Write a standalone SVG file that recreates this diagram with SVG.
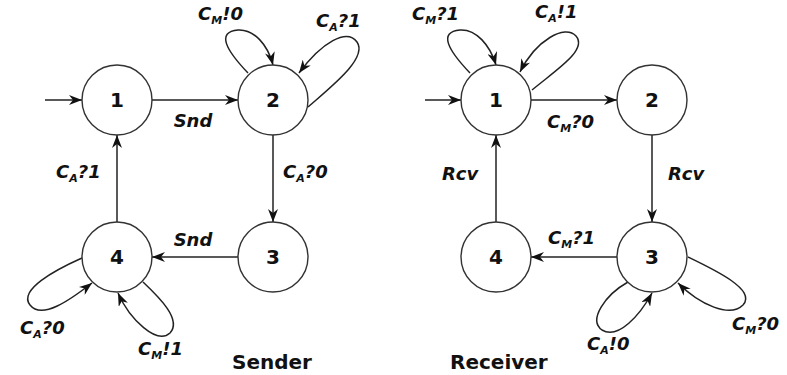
<svg xmlns="http://www.w3.org/2000/svg" width="787" height="375" viewBox="0 0 787 375">
<defs>
<marker id="ah" viewBox="0 0 13 10" refX="13" refY="5" markerWidth="13" markerHeight="10" orient="auto" markerUnits="userSpaceOnUse"><path d="M0,0 L13,5 L0,10 L4,5 Z" fill="#111"/></marker>
</defs>
<style>
.node circle{fill:#fff;stroke:#333;stroke-width:1.4}
.node text{font-family:"DejaVu Sans",Verdana,sans-serif;font-weight:bold;font-size:20px;text-anchor:middle;fill:#111}
.edges path{fill:none;stroke:#222;stroke-width:1.5;marker-end:url(#ah)}
.lbl{font-family:"DejaVu Sans",Verdana,sans-serif;font-weight:bold;font-style:italic;font-size:18px;fill:#111}
.sub{font-size:11px}
.title{font-family:"DejaVu Sans",Verdana,sans-serif;font-weight:bold;font-size:20px;fill:#111}
</style>
<rect width="787" height="375" fill="#fff"/>
<g id="edges" class="edges">
<path d="M45,100 L82,100"/>
<path d="M152,100 L238,100"/>
<path d="M273,135 L273,222"/>
<path d="M238,257 L152,257"/>
<path d="M117,222 L117,135"/>
<path d="M248,73 C226,50 216,32 238,30 C254,29 268,45 273,65"/>
<path d="M308,107 C332,86 368,58 357,42 C347,28 322,42 299,73"/>
<path d="M82,258 C55,270 18,290 30,305 C42,320 70,300 92,283"/>
<path d="M143,282 C160,298 182,320 170,333 C157,345 130,320 118,293"/>
<path d="M425,100 L461,100"/>
<path d="M531,100 L617,100"/>
<path d="M652,135 L652,222"/>
<path d="M617,257 L531,257"/>
<path d="M496,222 L496,135"/>
<path d="M470,73 C448,50 438,32 460,30 C476,29 490,45 496,65"/>
<path d="M532,90 C556,70 588,50 576,36 C565,24 536,40 520,72"/>
<path d="M628,282 C605,295 588,320 602,330 C618,340 640,315 652,293"/>
<path d="M688,257 C715,270 757,290 743,305 C730,318 700,305 678,283"/>
</g>
<g id="s1" class="node"><circle cx="117" cy="100" r="35"/><text x="117" y="107">1</text></g>
<g id="s2" class="node"><circle cx="273" cy="100" r="35"/><text x="273" y="107">2</text></g>
<g id="s3" class="node"><circle cx="273" cy="257" r="35"/><text x="273" y="264">3</text></g>
<g id="s4" class="node"><circle cx="117" cy="257" r="35"/><text x="117" y="264">4</text></g>
<g id="r1" class="node"><circle cx="496" cy="100" r="35"/><text x="496" y="107">1</text></g>
<g id="r2" class="node"><circle cx="652" cy="100" r="35"/><text x="652" y="107">2</text></g>
<g id="r3" class="node"><circle cx="652" cy="257" r="35"/><text x="652" y="264">3</text></g>
<g id="r4" class="node"><circle cx="496" cy="257" r="35"/><text x="496" y="264">4</text></g>
<g id="labels">
<text class="lbl" x="193" y="127" text-anchor="middle">Snd</text>
<text class="lbl" x="283" y="178">C<tspan class="sub" dy="4">A</tspan><tspan dy="-4">?0</tspan></text>
<text class="lbl" x="56" y="178">C<tspan class="sub" dy="4">A</tspan><tspan dy="-4">?1</tspan></text>
<text class="lbl" x="198" y="20">C<tspan class="sub" dy="4">M</tspan><tspan dy="-4">!0</tspan></text>
<text class="lbl" x="316" y="27">C<tspan class="sub" dy="4">A</tspan><tspan dy="-4">?1</tspan></text>
<text class="lbl" x="193" y="246" text-anchor="middle">Snd</text>
<text class="lbl" x="20" y="334">C<tspan class="sub" dy="4">A</tspan><tspan dy="-4">?0</tspan></text>
<text class="lbl" x="138" y="355">C<tspan class="sub" dy="4">M</tspan><tspan dy="-4">!1</tspan></text>
<text class="title" x="232" y="369">Sender</text>
<text class="lbl" x="412" y="20">C<tspan class="sub" dy="4">M</tspan><tspan dy="-4">?1</tspan></text>
<text class="lbl" x="535" y="18">C<tspan class="sub" dy="4">A</tspan><tspan dy="-4">!1</tspan></text>
<text class="lbl" x="547" y="128">C<tspan class="sub" dy="4">M</tspan><tspan dy="-4">?0</tspan></text>
<text class="lbl" x="668" y="180">Rcv</text>
<text class="lbl" x="442" y="180">Rcv</text>
<text class="lbl" x="548" y="244">C<tspan class="sub" dy="4">M</tspan><tspan dy="-4">?1</tspan></text>
<text class="lbl" x="587" y="350">C<tspan class="sub" dy="4">A</tspan><tspan dy="-4">!0</tspan></text>
<text class="lbl" x="732" y="330">C<tspan class="sub" dy="4">M</tspan><tspan dy="-4">?0</tspan></text>
<text class="title" x="450" y="369">Receiver</text>
</g>
</svg>
